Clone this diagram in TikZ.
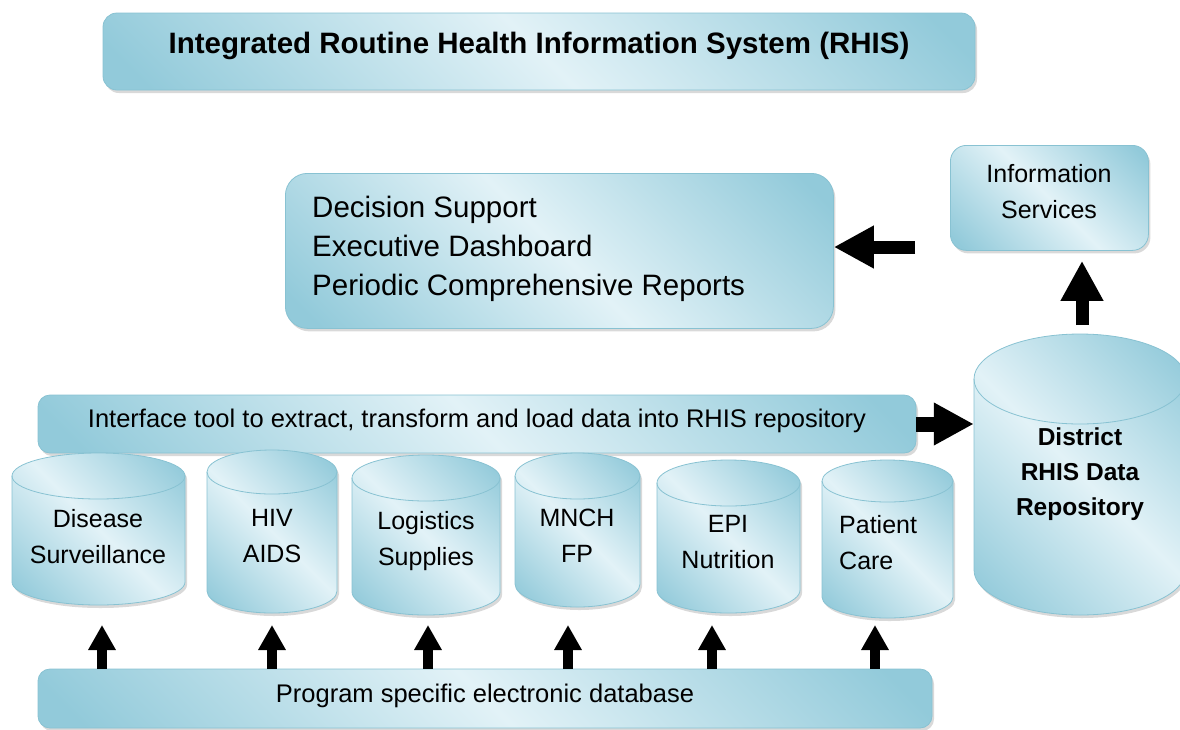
\documentclass[tikz,border=0pt]{standalone}
\usepackage{fontspec}
\setmainfont{Liberation Sans}
\usetikzlibrary{arrows.meta,shadows,calc}
\definecolor{glight}{HTML}{E2F2F7}
\definecolor{gdark}{HTML}{92CADA}
\definecolor{gedge}{HTML}{88C2D2}
\pgfdeclarehorizontalshading{glass}{100bp}{color(0bp)=(gdark); color(18bp)=(gdark); color(50bp)=(glight); color(82bp)=(gdark); color(100bp)=(gdark)}
\newcommand\ftitle{\fontsize{29.5}{35}\selectfont\bfseries}
\newcommand\fdec{\fontsize{29.5}{39}\selectfont}
\newcommand\finfo{\fontsize{25}{36}\selectfont}
\newcommand\fcyl{\fontsize{25}{36}\selectfont}
\newcommand\frep{\fontsize{24.5}{35}\selectfont\bfseries}
\newcommand\fmid{\fontsize{25.5}{30}\selectfont}
% cylinder: name, cx, top, bottom, rx, ry
\newcommand\cyl[6]{%
  \path[gcyl] ({#2-#5},{#3+#6}) -- ({#2-#5},{#4-#6})
    arc[start angle=180,end angle=0,x radius=#5,y radius=#6]
    -- ({#2+#5},{#3+#6})
    arc[start angle=0,end angle=-180,x radius=#5,y radius=#6] -- cycle;
  \draw[gedge, line width=0.8pt] ({#2-#5},{#3+#6})
    arc[start angle=180,end angle=0,x radius=#5,y radius=#6];
  \node[anchor=north, minimum width={2*#5pt}, minimum height={(#4-#3)*1pt}, inner sep=0pt] (#1) at (#2,#3) {};
}
\begin{document}
\begin{tikzpicture}[x=1pt,y=-1pt,
  gbox/.style={draw=gedge, line width=0.8pt, shading=glass, shading angle=45,
    rounded corners=#1, inner sep=0pt,
    drop shadow={shadow xshift=2pt, shadow yshift=-3pt, opacity=0.3}},
  gbox/.default=12pt,
  gcyl/.style={draw=gedge, line width=0.8pt, shading=glass, shading angle=45,
    drop shadow={shadow xshift=2pt, shadow yshift=-3pt, opacity=0.3}},
  cyltext/.style={anchor=north, align=center, font=\fcyl, inner sep=0pt},
  bigarrow/.style={line width=13pt, -{Triangle[length=40pt,width=40pt]}},
  smallarrow/.style={line width=10pt, -{Triangle[length=25pt,width=26pt]}}]
\useasboundingbox (0,0) rectangle (1180,729);

% title
\node[gbox=14pt, minimum width=872pt, minimum height=77pt, text height=12pt, text depth=9pt, font=\ftitle]
  (title) at (539,51.5) {Integrated Routine Health Information System (RHIS)};

% decision box
\node[gbox=22pt, minimum width=548pt, minimum height=155pt, anchor=north west] (dec) at (285,173) {};
\node[anchor=north west, align=left, font=\fdec, inner sep=0pt] (decT) at (312,195.5)
  {Decision Support\\Executive Dashboard\\Periodic Comprehensive Reports};

% information services
\node[gbox=16pt, minimum width=198pt, minimum height=105pt, anchor=north west] (info) at (950,145) {};
\node[anchor=north, align=center, font=\finfo, inner sep=0pt] (infoT) at (1049,164) {Information\\Services};

% interface bar
\node[gbox=12pt, minimum width=878pt, minimum height=58pt, text height=12pt, text depth=6pt, font=\fmid]
  (iface) at (477,424) {Interface tool to extract, transform and load data into RHIS repository};

% program bar
\node[gbox=12pt, minimum width=894pt, minimum height=59pt, text height=13pt, text depth=6pt, font=\fmid]
  (prog) at (485,698.5) {Program specific electronic database};

% cylinders
\cyl{ds}{98.5}{453}{605}{86.5}{23}
\cyl{hiv}{272}{450}{613}{65}{22}
\cyl{lgs}{426}{455}{615}{74}{23}
\cyl{mnch}{577.5}{453}{607}{62.5}{23}
\cyl{epi}{728.5}{460}{613}{71.5}{23}
\cyl{pc}{887.5}{460}{618}{65.5}{21}
\cyl{rep}{1080}{334}{615}{106}{45}

\node[cyltext] (dsT) at (98,509) {Disease\\Surveillance};
\node[cyltext] (hivT) at (272,509) {HIV\\AIDS};
\node[cyltext] (lgsT) at (426,511) {Logistics\\Supplies};
\node[cyltext] (mnchT) at (577,509) {MNCH\\FP};
\node[cyltext] (epiT) at (728,515) {EPI\\Nutrition};
\node[cyltext, anchor=north west, align=left] (pcT) at (839,515) {Patient\\Care};
\node[anchor=north, align=center, font=\frep, inner sep=0pt] (repT) at (1080,428) {District\\RHIS Data\\Repository};

% arrows
\coordinate (laS) at (915,247);
\draw[bigarrow] (laS) -- (laS -| dec.east);
\coordinate (uaX) at (1082,0);
\draw[bigarrow, shorten <=9pt, shorten >=10pt] (rep.north -| uaX) -- (info.south -| uaX);
\draw[line width=15pt, -{Triangle[length=40pt,width=40pt]}] (iface.east) -- (iface.east -| rep.west);

\foreach \ax/\cn in {102/ds,272/hiv,428/lgs,568/mnch,712/epi,875/pc}{
  \coordinate (a\cn) at (\ax,625);
  \draw[smallarrow] (prog.north -| a\cn) -- (a\cn);
}
\end{tikzpicture}
\end{document}
